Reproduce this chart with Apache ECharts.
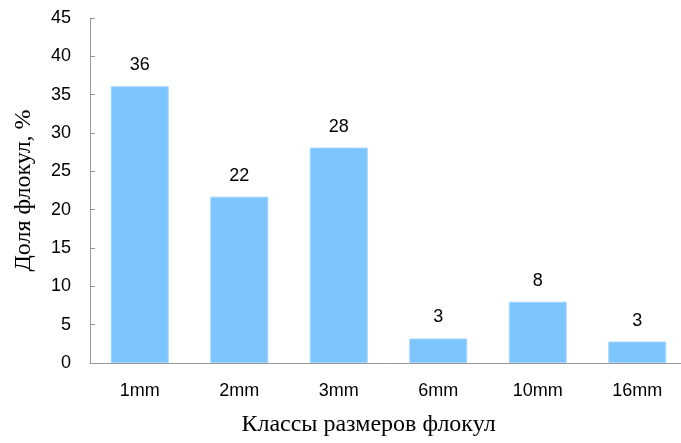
<!DOCTYPE html>
<html>
<head>
<meta charset="utf-8">
<script src="https://cdn.jsdelivr.net/npm/echarts@6/dist/echarts.min.js"></script>
<style>
  html, body { margin: 0; padding: 0; background: #fff; }
  #chart { width: 681px; height: 443px; }
</style>
</head>
<body>
<div id="chart"></div>
<script>
// Floc size classes and their share, %
const sizeClasses = ['1mm', '2mm', '3mm', '6mm', '10mm', '16mm'];
const shareValues = [36.1, 21.7, 28.1, 3.2, 8.0, 2.8];
const yTicks = { min: 0, max: 45, interval: 5 };

const chart = echarts.init(document.getElementById('chart'), null, { renderer: 'canvas' });

chart.setOption({
  animation: false,
  backgroundColor: '#ffffff',
  grid: { left: 90, right: -6, top: 18, bottom: 80, containLabel: false, outerBoundsMode: 'none' },
  xAxis: {
    type: 'category',
    data: sizeClasses,
    name: 'Классы размеров флокул',
    nameLocation: 'middle',
    nameGap: 50,
    nameTextStyle: { fontFamily: 'Liberation Serif', fontSize: 24, color: '#000', padding: [0, 40, 0, 0] },
    axisLine: { lineStyle: { color: '#999999', width: 1 } },
    axisTick: { show: false },
    axisLabel: { fontFamily: 'Liberation Sans', fontSize: 18, color: '#000', margin: 19 }
  },
  yAxis: {
    type: 'value',
    min: yTicks.min,
    max: yTicks.max,
    interval: yTicks.interval,
    name: 'Доля флокул, %',
    nameLocation: 'middle',
    nameGap: 54,
    nameTextStyle: { fontFamily: 'Liberation Serif', fontSize: 24, color: '#000' },
    axisLine: { show: true, lineStyle: { color: '#999999', width: 1 } },
    axisTick: { show: true, inside: true, length: 5, lineStyle: { color: '#999999' } },
    axisLabel: { fontFamily: 'Liberation Sans', fontSize: 18, color: '#000', margin: 19 },
    splitLine: { show: false }
  },
  series: [{
    type: 'bar',
    data: shareValues,
    barWidth: 58,
    itemStyle: { color: '#7DC5FF', borderColor: '#A6D6FF', borderWidth: 1 },
    label: {
      show: true,
      position: 'top',
      distance: 12,
      fontFamily: 'Liberation Sans',
      fontSize: 18,
      color: '#000',
      formatter: p => String(Math.round(p.value))
    }
  }]
});
</script>
</body>
</html>
